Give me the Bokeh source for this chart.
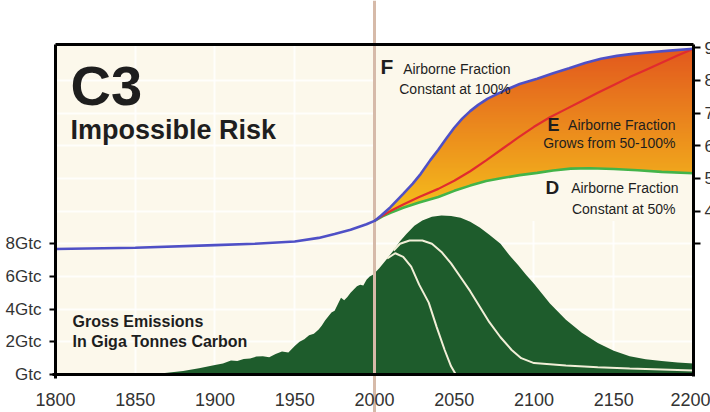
import numpy as np
from bokeh.plotting import figure
from bokeh.models import Range1d, LinearAxis, FixedTicker, Grid
from bokeh.core.properties import value
from bokeh.embed import file_html
from bokeh.resources import INLINE

# ---------------- data ----------------
present_year = 2000

x_ticks = [1800, 1850, 1900, 1950, 2000, 2050, 2100, 2150, 2200]
gtc_ticks = [0, 2, 4, 6, 8]
gtc_labels = ["Gtc", "2Gtc", "4Gtc", "6Gtc", "8Gtc"]
ppm_ticks = [300, 400, 500, 600, 700, 800, 900]
ppm_labels = ["", "400", "500", "600", "700", "800", "900"]

# CO2 concentration (ppm), scenario F: airborne fraction constant at 100% (incl. history)
f_years = [1800, 1850, 1900, 1925, 1950, 1965, 1975, 1985, 1995, 2000,
           2004, 2010, 2018, 2024, 2029, 2035, 2040, 2045, 2050, 2055,
           2060, 2065, 2071, 2081, 2091, 2102, 2112, 2122, 2132, 2142,
           2152, 2162, 2173, 2185, 2200]
f_ppm = [284, 288, 296, 300, 307, 318, 330, 343, 360, 370,
         386, 412, 453, 484, 514, 556, 588, 622, 655, 683,
         706, 725, 744, 768, 789, 805, 822, 837, 853, 866,
         875, 881, 886, 891, 897]

# scenario E: airborne fraction grows from 50-100%
e_years = [2000, 2005, 2010, 2018, 2028, 2040, 2050, 2060, 2070, 2080,
           2090, 2100, 2110, 2120, 2130, 2140, 2150, 2160, 2170, 2180, 2190, 2200]
e_ppm = [370, 386, 400, 420, 443, 468, 493, 522, 555, 590,
         625, 658, 687, 712, 737, 762, 786, 810, 832, 854, 876, 897]

# scenario D: airborne fraction constant at 50%
d_years = [2000, 2005, 2010, 2018, 2028, 2040, 2050, 2060, 2070, 2081,
           2091, 2102, 2112, 2123, 2135, 2150, 2165, 2180, 2200]
d_ppm = [370, 384, 395, 410, 426, 443, 462, 478, 492, 502,
         510, 517, 524, 530, 531, 529, 525, 520, 516]

# Gross emissions (GtC), highest pathway (incl. history)
emis_years = [1860, 1870, 1880, 1890, 1900, 1905, 1910, 1914, 1918, 1922,
              1926, 1930, 1934, 1938, 1942, 1946, 1950, 1953, 1956, 1959,
              1962, 1965, 1967, 1969, 1971, 1973, 1975, 1977, 1979, 1981,
              1983, 1985, 1987, 1989, 1991, 1993, 1995, 1997, 1999, 2000,
              2003, 2008, 2012, 2016, 2020, 2025, 2030, 2036, 2042, 2048,
              2054, 2060, 2066, 2072, 2079, 2085, 2090, 2095, 2100, 2110,
              2120, 2130, 2140, 2150, 2160, 2170, 2180, 2190, 2200]
emis_gtc = [0.0, 0.1, 0.22, 0.38, 0.58, 0.68, 0.85, 0.82, 0.95, 0.98,
            1.1, 1.12, 1.05, 1.25, 1.4, 1.35, 1.75, 2.0, 2.15, 2.4,
            2.5, 2.75, 3.0, 3.3, 3.55, 3.8, 3.9, 4.3, 4.7, 4.55,
            4.75, 5.0, 5.2, 5.4, 5.5, 5.45, 5.8, 6.0, 6.1, 6.2,
            6.5, 7.1, 7.6, 8.15, 8.6, 9.1, 9.42, 9.65, 9.73, 9.7,
            9.6, 9.35, 9.0, 8.55, 8.0, 7.25, 6.7, 6.1, 5.55, 4.35,
            3.35, 2.55, 1.93, 1.45, 1.12, 0.93, 0.82, 0.74, 0.68]

# middle pathway (white line)
mid_years = [2012, 2016, 2022, 2030, 2036, 2042, 2048, 2054, 2060, 2066,
             2072, 2079, 2086, 2092, 2100, 2120, 2140, 2160, 2180, 2200]
mid_gtc = [7.59, 8.0, 8.2, 8.2, 8.0, 7.5, 6.8, 5.95, 5.1, 4.15,
           3.2, 2.28, 1.5, 1.0, 0.7, 0.55, 0.45, 0.36, 0.3, 0.24]

# lowest pathway (white line)
low_years = [2008, 2013, 2018, 2023, 2028, 2034, 2039, 2044, 2048, 2051]
low_gtc = [7.1, 7.42, 7.2, 6.6, 5.5, 4.4, 2.9, 1.5, 0.5, 0.0]

# ---------------- style ----------------
BEIGE = "#FCF8EB"
INK = "#1E1E1E"
LABEL = "#333333"
FONT = "Liberation Sans"
BOX_TOP = 20.2            # GtC, top edge of chart box
GTC_TO_PPM = lambda g: 50.0 * g - 100.0

X0, X1 = 1765.52, 2210.66
Y0, Y1 = -2.3256, 22.889

p = figure(width=710, height=412,
           x_range=Range1d(X0, X1), y_range=Range1d(Y0, Y1),
           output_backend="svg", toolbar_location=None,
           x_axis_type=None, y_axis_type=None, min_border=0,
           background_fill_color="white", border_fill_color="white",
           outline_line_color=None)
p.extra_y_ranges = {"ppm": Range1d(GTC_TO_PPM(Y0), GTC_TO_PPM(Y1))}

# chart box background
p.quad(left=[x_ticks[0]], right=[x_ticks[-1]], bottom=[0], top=[BOX_TOP],
       fill_color=BEIGE, line_color=None, level="image")

# faint grid
gx = Grid(dimension=0, ticker=FixedTicker(ticks=x_ticks[1:-1]),
          grid_line_color="white", grid_line_width=2, grid_line_alpha=0.8)
gy = Grid(dimension=1, ticker=FixedTicker(ticks=[2, 4, 6, 8, 10, 12, 14, 16, 18]),
          grid_line_color="white", grid_line_width=2, grid_line_alpha=0.8)
p.add_layout(gx)
p.add_layout(gy)

# gradient band between F and D
fy = np.array(f_years, dtype=float)
fp = np.array(f_ppm, dtype=float)
fut = fy >= present_year
base_ppm = float(fp[fy == present_year][0])
top_ppm = GTC_TO_PPM(BOX_TOP)
n = 256
t = np.linspace(0, 1, n)[:, None]
c_lo = np.array([246, 196, 28], dtype=float)
c_hi = np.array([226, 86, 30], dtype=float)
rgb = c_lo + (c_hi - c_lo) * t
img = np.empty((n, 1), dtype=np.uint32)
view = img.view(dtype=np.uint8).reshape((n, 1, 4))
view[:, 0, 0:3] = rgb.astype(np.uint8)
view[:, 0, 3] = 255
p.image_rgba(image=[img], x=present_year, y=base_ppm,
             dw=x_ticks[-1] - present_year, dh=top_ppm - base_ppm,
             y_range_name="ppm")
# masks outside the band
p.varea(x=list(fy[fut]), y1=list(fp[fut]), y2=[top_ppm] * int(fut.sum()),
        fill_color=BEIGE, y_range_name="ppm")
p.varea(x=d_years, y1=[base_ppm] * len(d_years), y2=d_ppm,
        fill_color=BEIGE, y_range_name="ppm")

# emissions
p.varea(x=emis_years, y1=[0] * len(emis_years), y2=emis_gtc, fill_color="#1E5C2C")
p.line(mid_years, mid_gtc, line_color="#F2EFD8", line_width=2)
p.line(low_years, low_gtc, line_color="#F2EFD8", line_width=2)

# present-day marker
p.vspan(x=[present_year], line_color="#D6BAA9", line_width=3)

# concentration curves
p.line(d_years, d_ppm, line_color="#43B449", line_width=2.6, y_range_name="ppm")
p.line(e_years, e_ppm, line_color="#E12B2E", line_width=2.2, y_range_name="ppm")
p.line(f_years, f_ppm, line_color="#4F50C6", line_width=2.6, y_range_name="ppm")

# axes
common = dict(axis_line_color="black", axis_line_width=3,
              major_tick_line_color="black", major_tick_line_width=2,
              minor_tick_in=0, minor_tick_out=0,
              major_label_text_font=FONT, major_label_text_color=LABEL)

bottom = LinearAxis(fixed_location=0, ticker=FixedTicker(ticks=x_ticks),
                    bounds=(1798.3, 2200.3), major_tick_in=0, major_tick_out=0,
                    major_label_standoff=18, major_label_text_font_size="18px", **common)
p.add_layout(bottom, "below")

left = LinearAxis(fixed_location=x_ticks[0], ticker=FixedTicker(ticks=gtc_ticks),
                  major_label_overrides=dict(zip(gtc_ticks, gtc_labels)),
                  bounds=(-0.25, BOX_TOP), major_tick_in=0, major_tick_out=6,
                  major_label_standoff=8, major_label_text_font_size="17px", **common)
p.add_layout(left, "left")

right = LinearAxis(y_range_name="ppm", fixed_location=x_ticks[-1],
                   ticker=FixedTicker(ticks=ppm_ticks),
                   major_label_overrides=dict(zip(ppm_ticks, ppm_labels)),
                   bounds=(GTC_TO_PPM(-0.15), top_ppm), major_tick_in=0, major_tick_out=7,
                   major_label_standoff=4, major_label_text_font_size="17px", **common)
p.add_layout(right, "right")

top = LinearAxis(fixed_location=BOX_TOP, ticker=FixedTicker(ticks=[]),
                 bounds=(x_ticks[0], x_ticks[-1]), major_tick_in=0, major_tick_out=0,
                 **common)
p.add_layout(top, "above")

# texts (anchored at their vertical middle)
def txt(x, y, s, size, bold=False, align="left"):
    p.text(x=[x], y=[y], text=[s], text_font=value(FONT),
           text_font_style="bold" if bold else "normal",
           text_font_size=size, text_color=INK,
           text_align=align, text_baseline="middle")

txt(1809.4, 17.66, "C3", "56px", True)
txt(1809.4, 14.99, "Impossible Risk", "27px", True)
txt(1810.7, 3.22, "Gross Emissions", "16px", True)
txt(1810.7, 2.0, "In Giga Tonnes Carbon", "16px", True)

txt(2003.8, 18.84, "F", "21px", True)
txt(2085.3, 18.70, "Airborne Fraction", "14px", align="right")
txt(2085.3, 17.48, "Constant at 100%", "14px", align="right")

txt(2108.5, 15.29, "E", "18px", True)
txt(2188.7, 15.28, "Airborne Fraction", "14px", align="right")
txt(2188.7, 14.17, "Grows from 50-100%", "14px", align="right")

txt(2107.2, 11.46, "D", "19px", True)
txt(2190.6, 11.42, "Airborne Fraction", "14px", align="right")
txt(2188.7, 10.13, "Constant at 50%", "14px", align="right")

open("out.html", "w").write(file_html(p, INLINE))
